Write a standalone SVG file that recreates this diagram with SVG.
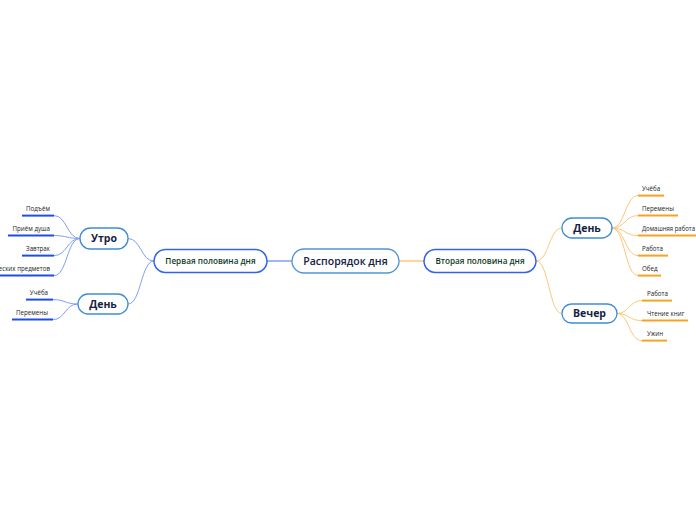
<svg xmlns="http://www.w3.org/2000/svg" width="696" height="520" viewBox="0 0 696 520">
<style>
.bg{fill:#ffffff}
.root rect{fill:#fff;stroke:#4f95d6;stroke-width:1.3}
.root text{font-family:"Open Sans","Liberation Sans",sans-serif;font-size:10.5px;font-weight:600;fill:#14233f;text-anchor:middle}
.l1 rect{fill:#fff;stroke:#3363ea;stroke-width:1.5}
.l1 text{font-family:"Open Sans","Liberation Sans",sans-serif;font-size:8.2px;font-weight:600;fill:#0d3b24;text-anchor:middle}
.l2 rect{fill:#fff;stroke:#3b8dd6;stroke-width:1.3}
.l2 text{font-family:"Open Sans","Liberation Sans",sans-serif;font-size:10.5px;font-weight:700;fill:#14233f;text-anchor:middle}
.leaf text{font-family:"Open Sans","Liberation Sans",sans-serif;font-size:6.2px;fill:#222}
.leafL line{stroke:#1f4fe0;stroke-width:2}
.leafR line{stroke:#f5a324;stroke-width:2}
.cb{fill:none;stroke:#7f9ef5;stroke-width:1}
.co{fill:none;stroke:#fdc77a;stroke-width:1}
</style>
<rect class="bg" width="696" height="520"/>
<g id="connectors">
<line x1="267" y1="261" x2="292" y2="261" stroke="#7f9ef5" stroke-width="1.5"/>
<line x1="399" y1="261" x2="424" y2="261" stroke="#fdc77a" stroke-width="1.5"/>
<path class="cb" d="M154 261 C141 261 141 238.5 128 238.5"/>
<path class="cb" d="M154 261 C141 261 141 304 128 304"/>
<path class="cb" d="M80 238.5 C67 238.5 67 215.6 54 215.6"/>
<path class="cb" d="M80 238.5 C67 238.5 67 235.6 54 235.6"/>
<path class="cb" d="M80 238.5 C67 238.5 67 255.6 54 255.6"/>
<path class="cb" d="M80 238.5 C67 238.5 67 275.6 54 275.6"/>
<path class="cb" d="M78 304 C65 304 65 299.6 53 299.6"/>
<path class="cb" d="M78 304 C65 304 65 319.6 53 319.6"/>
<path class="co" d="M536 261 C549 261 549 228 562 228"/>
<path class="co" d="M536 261 C549 261 549 313.5 562 313.5"/>
<path class="co" d="M612 228 C625 228 625 195.6 638 195.6"/>
<path class="co" d="M612 228 C625 228 625 215.6 638 215.6"/>
<path class="co" d="M612 228 C625 228 625 235.6 638 235.6"/>
<path class="co" d="M612 228 C625 228 625 255.6 638 255.6"/>
<path class="co" d="M612 228 C625 228 625 275.6 638 275.6"/>
<path class="co" d="M617 313.5 C629 313.5 629 300.6 642 300.6"/>
<path class="co" d="M617 313.5 C629 313.5 629 320.6 642 320.6"/>
<path class="co" d="M617 313.5 C629 313.5 629 340.6 642 340.6"/>
</g>
<g id="root" class="root"><rect x="292" y="249" width="107" height="24" rx="12"/><text x="345.5" y="264.8">Распорядок дня</text></g>
<g id="first-half" class="l1"><rect x="154" y="249.5" width="113" height="23" rx="11.5"/><text x="210.5" y="264">Первая половина дня</text></g>
<g id="second-half" class="l1"><rect x="424" y="249.5" width="112" height="23" rx="11.5"/><text x="480" y="264">Вторая половина дня</text></g>
<g id="morning" class="l2"><rect x="80" y="228" width="48" height="21" rx="10.5"/><text x="104" y="242.3">Утро</text></g>
<g id="day-left" class="l2"><rect x="78" y="294" width="50" height="20" rx="10"/><text x="103" y="307.8">День</text></g>
<g id="day-right" class="l2"><rect x="562" y="218" width="50" height="20" rx="10"/><text x="587" y="231.8">День</text></g>
<g id="evening" class="l2"><rect x="562" y="304" width="55" height="19" rx="9.5"/><text x="589.5" y="317.3">Вечер</text></g>
<g id="leaf-podem" class="leaf leafL"><text x="50" y="210.5" text-anchor="end">Подъём</text><line x1="22" y1="215.6" x2="54" y2="215.6"/></g>
<g id="leaf-dush" class="leaf leafL"><text x="50" y="230.5" text-anchor="end">Приём душа</text><line x1="8" y1="235.6" x2="54" y2="235.6"/></g>
<g id="leaf-zavtrak" class="leaf leafL"><text x="50" y="250.5" text-anchor="end">Завтрак</text><line x1="22" y1="255.6" x2="54" y2="255.6"/></g>
<g id="leaf-predmety" class="leaf leafL"><text x="50" y="270.5" text-anchor="end">Сбор ученических предметов</text><line x1="0" y1="275.6" x2="54" y2="275.6"/></g>
<g id="leaf-ucheba-l" class="leaf leafL"><text x="48" y="294.5" text-anchor="end">Учёба</text><line x1="26" y1="299.6" x2="53" y2="299.6"/></g>
<g id="leaf-peremeny-l" class="leaf leafL"><text x="48" y="314.5" text-anchor="end">Перемены</text><line x1="12" y1="319.6" x2="53" y2="319.6"/></g>
<g id="leaf-ucheba-r" class="leaf leafR"><text x="642" y="190.5">Учёба</text><line x1="638" y1="195.6" x2="664" y2="195.6"/></g>
<g id="leaf-peremeny-r" class="leaf leafR"><text x="642" y="210.5">Перемены</text><line x1="638" y1="215.6" x2="678" y2="215.6"/></g>
<g id="leaf-dom" class="leaf leafR"><text x="642" y="230.5" textLength="53" lengthAdjust="spacingAndGlyphs">Домашняя работа</text><line x1="638" y1="235.6" x2="696" y2="235.6"/></g>
<g id="leaf-rabota-d" class="leaf leafR"><text x="642" y="250.5">Работа</text><line x1="638" y1="255.6" x2="668" y2="255.6"/></g>
<g id="leaf-obed" class="leaf leafR"><text x="642" y="270.5">Обед</text><line x1="638" y1="275.6" x2="661" y2="275.6"/></g>
<g id="leaf-rabota-e" class="leaf leafR"><text x="647" y="295.5">Работа</text><line x1="642" y1="300.6" x2="672" y2="300.6"/></g>
<g id="leaf-chtenie" class="leaf leafR"><text x="647" y="315.5">Чтение книг</text><line x1="642" y1="320.6" x2="688" y2="320.6"/></g>
<g id="leaf-uzhin" class="leaf leafR"><text x="647" y="335.5">Ужин</text><line x1="642" y1="340.6" x2="667" y2="340.6"/></g>
</svg>
